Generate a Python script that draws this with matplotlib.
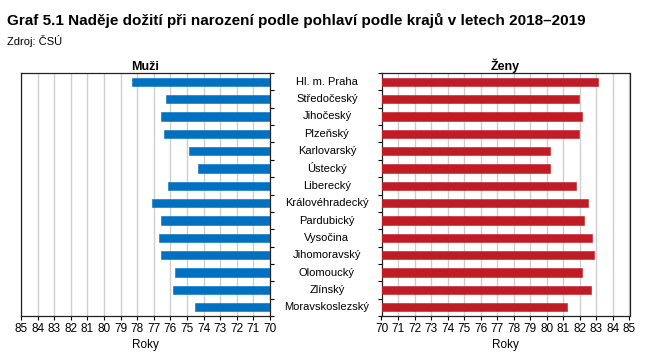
import numpy as np
from matplotlib import pyplot as plt

plt.rcParams["font.family"] = ["Liberation Sans", "DejaVu Sans"]

kraje = [
    "Hl. m. Praha", "Středočeský", "Jihočeský", "Plzeňský", "Karlovarský",
    "Ústecký", "Liberecký", "Královéhradecký", "Pardubický", "Vysočina",
    "Jihomoravský", "Olomoucký", "Zlínský", "Moravskoslezský",
]
muzi = [78.33, 76.28, 76.57, 76.40, 74.88, 74.36, 76.13,
        77.13, 76.57, 76.71, 76.58, 75.70, 75.84, 74.54]
zeny = [83.08, 81.92, 82.12, 81.92, 80.18, 80.22, 81.75,
        82.50, 82.24, 82.76, 82.88, 82.12, 82.66, 81.23]
ticks = list(range(70, 86))

blue = "#0070C0"
red = "#C01C26"

fig = plt.figure(figsize=(6.49, 3.63), dpi=100)
W, H = 649, 363
ax_m = fig.add_axes([21 / W, 1 - 316 / H, 249 / W, 243 / H])
ax_z = fig.add_axes([381.5 / W, 1 - 316 / H, 248 / W, 243 / H])

y = np.arange(len(kraje))
base = 70

for ax, vals, col in ((ax_m, muzi, blue), (ax_z, zeny, red)):
    ax.barh(y, [v - base for v in vals], left=base, height=0.48,
            color=col, edgecolor=col, linewidth=0.4, zorder=3)
    ax.set_ylim(len(kraje) - 0.5, -0.5)
    ax.set_xticks(ticks)
    ax.set_xticklabels([str(t) for t in ticks], fontsize=8.5)
    ax.grid(axis="x", color="#cfcfcf", linewidth=1, zorder=0)
    ax.set_yticks([])
    ax.set_yticks(np.arange(-0.5, len(kraje)), minor=True)
    ax.tick_params(axis="y", which="minor", length=3, width=0.8)
    ax.tick_params(axis="x", length=3, width=0.8, pad=2)
    for s in ax.spines.values():
        s.set_linewidth(0.9)
        s.set_color("#222222")
    ax.set_xlabel("Roky", fontsize=8.5, labelpad=3)

ax_m.set_xlim(85, 70)
ax_m.yaxis.tick_right()
ax_m.tick_params(axis="y", which="minor", right=True, left=False)
ax_z.set_xlim(70, 85)
ax_z.tick_params(axis="y", which="minor", left=True, right=False)

ax_m.set_title("Muži", fontsize=9, fontweight="bold", pad=2)
ax_z.set_title("Ženy", fontsize=9, fontweight="bold", pad=2)

for i, name in enumerate(kraje):
    ax_z.text(-0.22, i, name, transform=ax_z.get_yaxis_transform(),
              ha="center", va="center", fontsize=8)

fig.text(7 / W, 1 - 20 / H,
         "Graf 5.1 Naděje dožití při narození podle pohlaví podle krajů v letech 2018–2019",
         fontsize=11, fontweight="bold", va="center", ha="left")
fig.text(7 / W, 1 - 41 / H, "Zdroj: ČSÚ", fontsize=8, va="center", ha="left")

fig.savefig("out.png", dpi=100)
